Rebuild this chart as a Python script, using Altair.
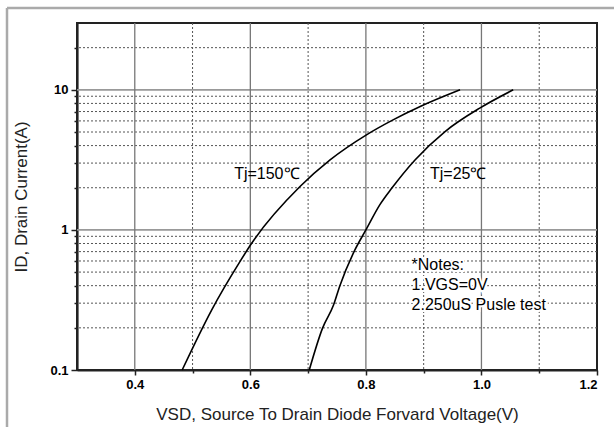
import altair as alt
import pandas as pd

# Curve data (VSD in V, ID in A)
v_150 = [0.482, 0.533, 0.582, 0.602, 0.686, 0.738, 0.801, 0.847, 0.894, 0.963]
i_150 = [0.1, 0.268, 0.594, 0.80, 2.04, 3.16, 4.77, 6.1, 7.6, 10.0]
v_25 = [0.702, 0.725, 0.744, 0.755, 0.781, 0.800, 0.824, 0.845, 0.885, 0.937, 0.997, 1.055]
i_25 = [0.1, 0.199, 0.291, 0.40, 0.72, 1.0, 1.51, 1.99, 3.16, 5.04, 7.4, 10.0]

x_major = [0.4, 0.6, 0.8, 1.0]
x_minor = [0.5, 0.7, 0.9, 1.1]
x_ticks = [0.4, 0.5, 0.6, 0.7, 0.8, 0.9, 1.0, 1.1, 1.2]
y_major = [1, 10]
y_minor = [0.2, 0.3, 0.4, 0.5, 0.6, 0.7, 0.8, 0.9, 2, 3, 4, 5, 6, 7, 8, 9, 20]
y_ticks = [0.1, 0.2, 0.3, 0.4, 0.5, 0.6, 0.7, 0.8, 0.9, 1, 2, 3, 4, 5, 6, 7, 8, 9, 10, 20]

curve_labels = ["Tj=150℃", "Tj=25℃"]
curve_label_v = [0.572, 0.911]
curve_label_i = [2.51, 2.51]

notes = ["*Notes:", "1.VGS=0V", "2.250uS Pusle test"]
notes_v = [0.879, 0.879, 0.879]
notes_i = [0.562, 0.405, 0.291]

FONT = "Liberation Sans"

curves = pd.concat([
    pd.DataFrame({"v": v_150, "i": i_150, "s": "150"}),
    pd.DataFrame({"v": v_25, "i": i_25, "s": "25"}),
])

xs = alt.Scale(domain=[0.3, 1.2], nice=False, zero=False)
ys = alt.Scale(type="log", domain=[0.1, 30], nice=False)

major_test_y = "datum.value == 0.1 || datum.value == 1 || datum.value == 10"
major_test_x = "datum.value == 0.4 || datum.value == 0.6 || datum.value == 0.8 || datum.value == 1 || datum.value == 1.2"

grid_xminor = alt.Chart(pd.DataFrame({"v": x_minor})).mark_rule(
    color="#555", strokeDash=[2, 2], strokeWidth=1
).encode(x=alt.X("v:Q", scale=xs))
grid_yminor = alt.Chart(pd.DataFrame({"i": y_minor})).mark_rule(
    color="#555", strokeDash=[2, 2], strokeWidth=1
).encode(y=alt.Y("i:Q", scale=ys))
grid_xmajor = alt.Chart(pd.DataFrame({"v": x_major})).mark_rule(
    color="#777", strokeWidth=1.3
).encode(x=alt.X("v:Q", scale=xs))
grid_ymajor = alt.Chart(pd.DataFrame({"i": y_major})).mark_rule(
    color="#999", strokeWidth=1.8
).encode(y=alt.Y("i:Q", scale=ys))

lines = alt.Chart(curves).mark_line(color="#000", strokeWidth=1.6, interpolate="monotone").encode(
    x=alt.X(
        "v:Q", scale=xs,
        axis=alt.Axis(
            values=x_ticks, format=".1f",
            labelExpr=f"({major_test_x}) ? datum.label : ''",
            tickSize={"condition": {"test": major_test_x, "value": 5}, "value": 3},
            title="VSD, Source To Drain Diode Forvard Voltage(V)",
            titleY=44, titleBaseline="middle",
        ),
    ),
    y=alt.Y(
        "i:Q", scale=ys,
        axis=alt.Axis(
            values=y_ticks, format="~g",
            labelExpr=f"({major_test_y}) ? datum.label : ''",
            tickSize={"condition": {"test": major_test_y, "value": 6}, "value": 3},
            title="ID,  Drain Current(A)",
            titleX=-56, titleBaseline="middle",
        ),
    ),
    detail="s:N",
)

lbl = alt.Chart(pd.DataFrame({"t": curve_labels, "v": curve_label_v, "i": curve_label_i})).mark_text(
    align="left", baseline="middle", font=FONT, fontSize=16, color="#000"
).encode(x=alt.X("v:Q", scale=xs), y=alt.Y("i:Q", scale=ys), text="t:N")

note_bg = alt.Chart(pd.DataFrame({"t": notes, "v": notes_v, "i": notes_i})).mark_text(
    align="left", baseline="middle", font=FONT, fontSize=16, color="#fff",
    stroke="#fff", strokeWidth=4
).encode(x=alt.X("v:Q", scale=xs), y=alt.Y("i:Q", scale=ys), text="t:N")
note_txt = alt.Chart(pd.DataFrame({"t": notes, "v": notes_v, "i": notes_i})).mark_text(
    align="left", baseline="middle", font=FONT, fontSize=16, color="#000"
).encode(x=alt.X("v:Q", scale=xs), y=alt.Y("i:Q", scale=ys), text="t:N")

one = alt.Data(values=[{"a": 1}])
frame_top = alt.Chart(one).mark_rule(color="#aaa", strokeWidth=2.5).encode(
    x=alt.value(-70), x2=alt.value(540), y=alt.value(-15)
)
frame_left = alt.Chart(one).mark_rule(color="#aaa", strokeWidth=2.5).encode(
    x=alt.value(-70), y=alt.value(-15), y2=alt.value(410)
)

chart = alt.layer(
    frame_top, frame_left,
    grid_yminor, grid_xminor, grid_ymajor, grid_xmajor,
    note_bg, note_txt, lbl, lines,
).properties(
    width=520, height=347,
    autosize=alt.AutoSizeParams(type="none"),
    padding={"left": 77, "top": 23, "right": 17, "bottom": 57},
    background="#ffffff",
).configure_view(
    stroke="#222", strokeWidth=2
).configure_axis(
    grid=False,
    domainColor="#222", domainWidth=2.2,
    tickColor="#222", tickWidth=1.5,
    labelFont=FONT, labelFontSize=13, labelFontWeight="bold", labelColor="#000",
    labelPadding=3,
    titleFont=FONT, titleFontSize=17, titleFontWeight="normal", titleColor="#222",
)

chart.save("out.html", embed_options={"renderer": "svg", "actions": False})
